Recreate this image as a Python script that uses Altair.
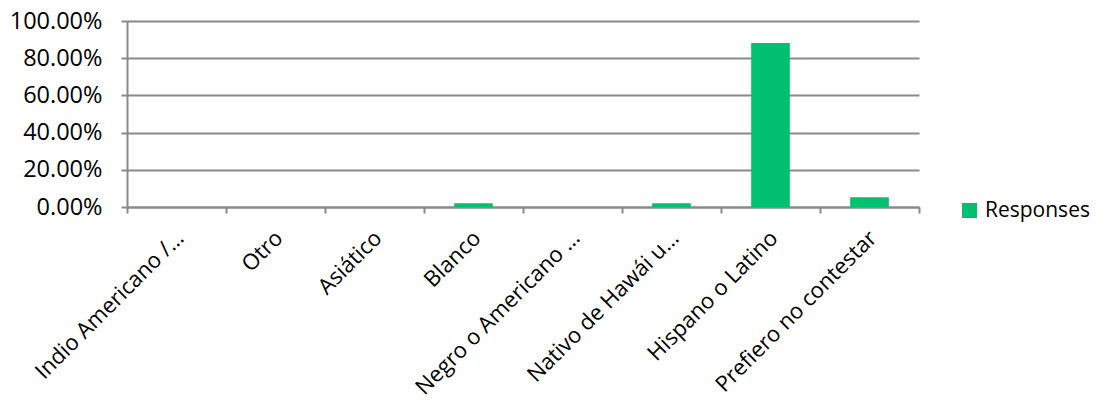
import altair as alt
import pandas as pd

categories = [
    "Indio Americano /…",
    "Otro",
    "Asiático",
    "Blanco",
    "Negro o Americano …",
    "Nativo de Hawái u…",
    "Hispano o Latino",
    "Prefiero no contestar",
]
values = [0.0, 0.0, 0.0, 0.020, 0.0, 0.020, 0.882, 0.052]
series = ["Responses"] * len(categories)
y_ticks = [0.0, 0.2, 0.4, 0.6, 0.8, 1.0]

df = pd.DataFrame({"category": categories, "value": values, "series": series})

FONT = "Open Sans"
GRAY = "#898989"
GREEN = "#00BF6F"

chart = (
    alt.Chart(df)
    .mark_bar(width=alt.RelativeBandSize(0.39), color=GREEN)
    .encode(
        x=alt.X(
            "category:N",
            sort=categories,
            title=None,
            scale=alt.Scale(paddingInner=0, paddingOuter=0),
            axis=alt.Axis(
                labelAngle=-45,
                labelAlign="right",
                labelBaseline="top",
                labelPadding=14,
                labelOffset=-4,
                tickBand="extent",
                tickSize=6,
                tickWidth=2,
                tickColor=GRAY,
                domainColor=GRAY,
                domainWidth=2,
                grid=False,
                labelFont=FONT,
                labelFontSize=22,
                labelColor="#000000",
                labelLimit=400,
            ),
        ),
        y=alt.Y(
            "value:Q",
            title=None,
            scale=alt.Scale(domain=[0, 1], nice=False),
            axis=alt.Axis(
                values=y_ticks,
                format=".2%",
                tickSize=6,
                tickWidth=2,
                tickColor=GRAY,
                domainColor=GRAY,
                domainWidth=2,
                gridColor=GRAY,
                gridWidth=2,
                gridOpacity=1,
                labelFont=FONT,
                labelFontSize=23.5,
                labelColor="#000000",
                labelPadding=19,
            ),
        ),
        fill=alt.Fill(
            "series:N",
            scale=alt.Scale(range=[GREEN]),
            legend=alt.Legend(
                title=None,
                orient="none",
                legendX=832,
                legendY=179,
                symbolType="square",
                symbolSize=225,
                symbolStrokeWidth=0,
                labelFont=FONT,
                labelFontSize=21,
                labelColor="#000000",
                padding=0,
                labelOffset=5,
            ),
        ),
    )
    .properties(
        width=792,
        height=186,
        autosize=alt.AutoSizeParams(type="none"),
        padding={"left": 119, "top": 13, "right": 175, "bottom": 191},
    )
    .configure_view(stroke=None)
)

chart.save("out.html", embed_options={"renderer": "svg", "actions": False})
